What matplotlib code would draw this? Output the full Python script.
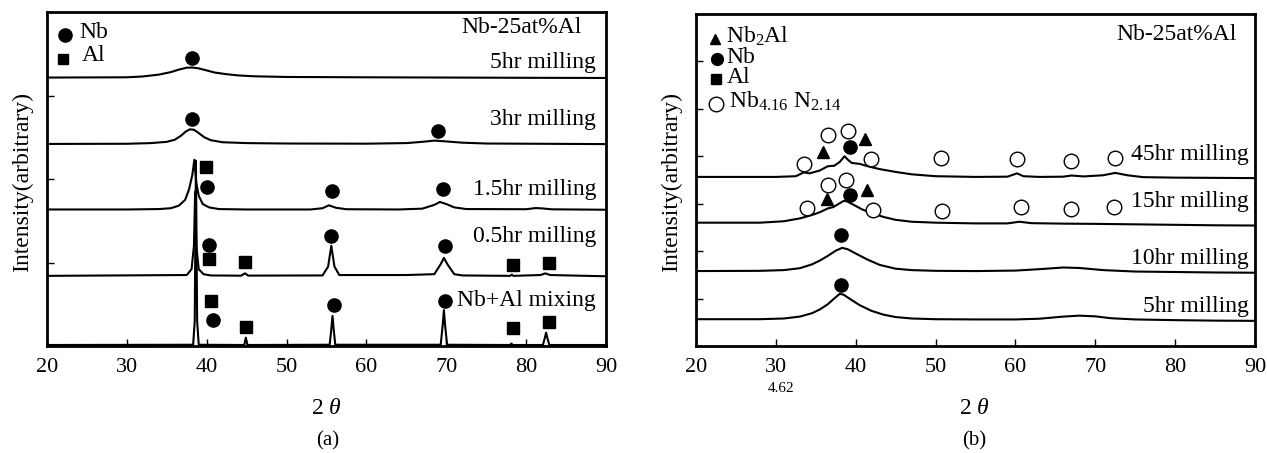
import matplotlib
matplotlib.use("Agg")
import matplotlib.pyplot as plt

plt.rcParams['font.family'] = ['Liberation Serif', 'DejaVu Serif']
plt.rcParams['mathtext.fontset'] = 'custom'
plt.rcParams['mathtext.rm'] = 'Liberation Serif'
plt.rcParams['mathtext.it'] = 'Liberation Serif:italic'

# ---------------- Panel (a) data (2theta, stacked intensity 0..4) ----------------
a_5hr_x = [20, 30, 32, 34, 35.5, 36.5, 37.5, 38.2, 39, 40, 41, 42.5, 44, 46, 50, 60, 70, 80, 90]
a_5hr_y = [3.215, 3.218, 3.228, 3.25, 3.28, 3.31, 3.333, 3.335, 3.325, 3.30, 3.275, 3.255, 3.24, 3.23,
           3.222, 3.218, 3.215, 3.212, 3.21]

a_3hr_x = [20, 30, 33, 35, 36, 36.8, 37.4, 37.9, 38.4, 39, 39.7, 40.5, 42, 45, 50, 60, 65, 67, 68.5, 70,
           72, 75, 90]
a_3hr_y = [2.42, 2.422, 2.43, 2.445, 2.47, 2.52, 2.57, 2.595, 2.59, 2.55, 2.5, 2.465, 2.44, 2.43, 2.425,
           2.423, 2.43, 2.445, 2.46, 2.45, 2.435, 2.425, 2.418]

a_15hr_x = [20, 30, 34, 35.5, 36.5, 37.3, 37.8, 38.2, 38.45, 38.7, 39.0, 39.5, 40.3, 41.5, 45, 53, 54.5,
            55.3, 56.2, 57.5, 64, 67, 68.5, 69.2, 70, 71, 72.5, 80, 81.2, 82, 83.2, 90]
a_15hr_y = [1.635, 1.635, 1.64, 1.65, 1.68, 1.75, 1.88, 2.05, 2.23, 1.95, 1.80, 1.70, 1.66, 1.64, 1.635,
            1.635, 1.65, 1.685, 1.655, 1.638, 1.635, 1.645, 1.69, 1.725, 1.70, 1.66, 1.64, 1.638, 1.652,
            1.648, 1.637, 1.632]

a_05hr_x = [20, 37.5, 38.1, 38.4, 38.55, 38.7, 39.0, 39.6, 40.5, 44.3, 44.8, 45.2, 54.5, 55.2, 55.6,
            56.0, 56.6, 65.0, 68.5, 69.3, 69.7, 70.2, 71, 72, 78.0, 78.2, 78.4, 81.8, 82.4, 83, 90]
a_05hr_y = [0.84, 0.85, 0.92, 1.2, 1.85, 1.2, 0.92, 0.86, 0.845, 0.842, 0.87, 0.843, 0.845, 0.95, 1.20,
            0.95, 0.85, 0.85, 0.86, 0.98, 1.055, 0.97, 0.86, 0.845, 0.84, 0.855, 0.84, 0.85, 0.87, 0.85,
            0.835]

a_mix_x = [20, 38.3, 38.5, 38.65, 38.8, 39.0, 44.7, 44.9, 45.1, 55.4, 55.6, 55.75, 55.9, 56.1, 69.3,
           69.55, 69.7, 69.85, 70.1, 78.0, 78.15, 78.3, 82.1, 82.35, 82.5, 82.65, 82.9, 90]
a_mix_y = [0.012, 0.015, 0.3, 2.22, 0.3, 0.015, 0.012, 0.1, 0.012, 0.015, 0.2, 0.36, 0.2, 0.015, 0.015,
           0.25, 0.43, 0.25, 0.015, 0.012, 0.03, 0.012, 0.012, 0.1, 0.16, 0.1, 0.012, 0.012]

a_curves = [(a_5hr_x, a_5hr_y), (a_3hr_x, a_3hr_y), (a_15hr_x, a_15hr_y),
            (a_05hr_x, a_05hr_y), (a_mix_x, a_mix_y)]

a_labels = ["5hr milling", "3hr milling", "1.5hr milling", "0.5hr milling", "Nb+Al mixing"]
a_label_y = [3.40, 2.71, 1.88, 1.317, 0.55]

a_nb_x = [38.1, 38.1, 69.0, 40.0, 55.7, 69.6, 40.3, 55.6, 69.8, 40.8, 56.0, 69.9]
a_nb_y = [3.455, 2.72, 2.57, 1.90, 1.86, 1.875, 1.206, 1.317, 1.198, 0.31, 0.49, 0.537]
a_al_x = [39.9, 40.3, 44.8, 78.4, 82.8, 40.5, 44.9, 78.4, 82.8]
a_al_y = [2.14, 1.047, 1.007, 0.967, 0.999, 0.537, 0.23, 0.21, 0.29]

# ---------------- Panel (b) data (2theta, stacked intensity 0..7) ----------------
b_45hr_x = [20, 30, 32.5, 33.5, 34.2, 35.5, 36.5, 37.3, 38.0, 38.6, 39.0, 39.5, 40.5, 41.5, 43, 45, 47,
            50, 55, 59, 60.2, 61, 63, 66, 67, 68.5, 71, 72.5, 74, 76, 80, 85, 90]
b_45hr_y = [3.565, 3.565, 3.58, 3.66, 3.64, 3.70, 3.79, 3.80, 3.88, 4.0, 3.93, 3.86, 3.84, 3.79, 3.73,
            3.67, 3.62, 3.58, 3.565, 3.57, 3.64, 3.58, 3.565, 3.57, 3.595, 3.575, 3.6, 3.65, 3.6, 3.56,
            3.55, 3.545, 3.54]

b_15hr_x = [20, 28, 31, 33, 34.5, 35.5, 36.5, 37.2, 37.8, 38.5, 38.9, 39.7, 40.8, 42, 43.5, 45, 47, 50,
            55, 59, 60.5, 62, 66, 70, 75, 80, 85, 90]
b_15hr_y = [2.60, 2.60, 2.63, 2.69, 2.76, 2.82, 2.90, 2.93, 2.99, 3.06, 3.05, 2.98, 2.88, 2.80, 2.72,
            2.66, 2.62, 2.60, 2.585, 2.585, 2.62, 2.59, 2.58, 2.575, 2.565, 2.555, 2.545, 2.54]

b_10hr_x = [20, 28, 31, 33, 34.5, 35.5, 36.5, 37.5, 38.3, 39.0, 40, 41.5, 43, 45, 47, 50, 55, 60, 63,
            66, 68, 71, 75, 80, 85, 90]
b_10hr_y = [1.58, 1.585, 1.60, 1.64, 1.72, 1.80, 1.90, 2.01, 2.07, 2.04, 1.95, 1.82, 1.71, 1.63, 1.60,
            1.585, 1.58, 1.59, 1.62, 1.655, 1.645, 1.60, 1.57, 1.56, 1.55, 1.545]

b_5hr_x = [20, 28, 31, 33, 34.5, 35.5, 36.5, 37.3, 38.0, 38.5, 39.3, 40.5, 42, 43.5, 45, 47, 50, 55,
           60, 63, 66, 68, 70, 72, 75, 80, 85, 90]
b_5hr_y = [0.565, 0.565, 0.58, 0.62, 0.69, 0.77, 0.88, 1.0, 1.10, 1.08, 0.99, 0.86, 0.74, 0.66, 0.61,
           0.58, 0.565, 0.56, 0.56, 0.575, 0.62, 0.64, 0.625, 0.585, 0.56, 0.545, 0.535, 0.53]

b_curves = [(b_45hr_x, b_45hr_y), (b_15hr_x, b_15hr_y), (b_10hr_x, b_10hr_y), (b_5hr_x, b_5hr_y)]

b_labels = ["45hr milling", "15hr milling", "10hr milling", "5hr milling"]
b_label_y = [4.03, 3.05, 1.84, 0.83]

b_nbn_x = [33.5, 36.5, 39.0, 41.9, 50.7, 60.2, 67.0, 72.5, 33.9, 36.5, 38.8, 42.2, 50.8, 60.7, 66.9, 72.4]
b_nbn_y = [3.84, 4.45, 4.54, 3.94, 3.96, 3.94, 3.91, 3.96, 2.91, 3.40, 3.49, 2.86, 2.84, 2.93, 2.89, 2.93]
b_nb2al_x = [35.9, 41.2, 36.4, 41.4]
b_nb2al_y = [4.08, 4.36, 3.10, 3.28]
b_nb_x = [39.3, 39.3, 38.2, 38.2]
b_nb_y = [4.19, 3.19, 2.33, 1.28]

x_ticks = [20, 30, 40, 50, 60, 70, 80, 90]

W, H = 1267, 453
fig = plt.figure(figsize=(W / 100, H / 100), dpi=100)
axa = fig.add_axes([47 / W, 1 - 346 / H, (606 - 47) / W, (346 - 12) / H])
axb = fig.add_axes([696 / W, 1 - 346 / H, (1255 - 696) / W, (346 - 14) / H])

LW = 1.5
FS = 17

for ax, ymax in ((axa, 4), (axb, 7)):
    ax.set_xlim(20, 90)
    ax.set_ylim(0, ymax)
    ax.set_xticks(x_ticks)
    ax.set_xticklabels([str(t) for t in x_ticks], fontsize=16)
    ax.set_yticks(list(range(ymax + 1)))
    ax.set_yticklabels([])
    ax.tick_params(direction='in', length=5, width=1, top=False, right=False, pad=9)
    for s in ax.spines.values():
        s.set_linewidth(2.0)

# ---- Panel (a)
for xs, ys in a_curves:
    axa.plot(xs, ys, color='black', lw=LW)
axa.plot(a_nb_x, a_nb_y, 'o', color='black', ms=9.5, ls='none')
axa.plot(a_al_x, a_al_y, 's', color='black', ms=8, ls='none')
for lab, yy in zip(a_labels, a_label_y):
    axa.text(88.75, yy, lab, ha='right', va='center', fontsize=FS)
axa.text(87.0, 3.81, "Nb-25at%Al", ha='right', va='center', fontsize=FS)
axa.plot([22.2], [3.72], 'o', color='black', ms=9.5)
axa.plot([22.0], [3.44], 's', color='black', ms=7.5)
axa.text(24.0, 3.76, "Nb", ha='left', va='center', fontsize=FS)
axa.text(24.3, 3.48, "Al", ha='left', va='center', fontsize=FS)

# ---- Panel (b)
for xs, ys in b_curves:
    axb.plot(xs, ys, color='black', lw=LW)
axb.plot(b_nbn_x, b_nbn_y, 'o', mfc='white', mec='black', mew=1.0, ms=10.5, ls='none')
axb.plot(b_nb2al_x, b_nb2al_y, '^', color='black', ms=8.5, ls='none')
axb.plot(b_nb_x, b_nb_y, 'o', color='black', ms=9.5, ls='none')
for lab, yy in zip(b_labels, b_label_y):
    axb.text(89.2, yy, lab, ha='right', va='center', fontsize=FS)
axb.text(87.7, 6.56, "Nb-25at%Al", ha='right', va='center', fontsize=FS)
axb.plot([22.4], [6.47], '^', color='black', ms=7.5)
axb.plot([22.6], [6.05], 'o', color='black', ms=8.5)
axb.plot([22.5], [5.63], 's', color='black', ms=7)
axb.plot([22.5], [5.11], 'o', mfc='white', mec='black', mew=1.0, ms=10.5)
axb.text(23.8, 6.52, r"Nb$_{2}$Al", ha='left', va='center', fontsize=FS)
axb.text(23.8, 6.08, "Nb", ha='left', va='center', fontsize=FS)
axb.text(23.8, 5.66, "Al", ha='left', va='center', fontsize=FS)
axb.text(24.1, 5.16, r"Nb$_{4.16}$ N$_{2.14}$", ha='left', va='center', fontsize=FS)

# ---- axis labels and captions
fig.text(23 / W, 1 - 182 / H, "Intensity(arbitrary)", rotation=90, ha='center', va='center', fontsize=FS)
fig.text(672 / W, 1 - 182 / H, "Intensity(arbitrary)", rotation=90, ha='center', va='center', fontsize=FS)
fig.text(326 / W, 1 - 408 / H, r"2 $\theta$", ha='center', va='center', fontsize=FS)
fig.text(974 / W, 1 - 408 / H, r"2 $\theta$", ha='center', va='center', fontsize=FS)
fig.text(328 / W, 1 - 441 / H, "(a)", ha='center', va='center', fontsize=15)
fig.text(974 / W, 1 - 441 / H, "(b)", ha='center', va='center', fontsize=15)
fig.text(781 / W, 1 - 388 / H, "4.62", ha='center', va='center', fontsize=11)

fig.savefig("out.png", dpi=100, facecolor='white')
